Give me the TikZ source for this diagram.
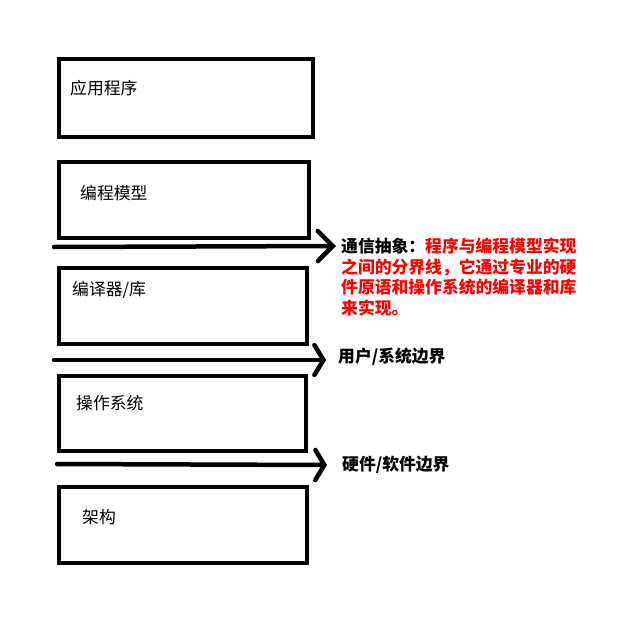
\documentclass[tikz,border=0pt]{standalone}
\usepackage{fontspec}
\newfontfamily\cjk{Noto Sans CJK SC}
\usetikzlibrary{arrows.meta}
\begin{document}
\begin{tikzpicture}[x=1pt,y=-1pt,
  layer/.style={draw=black,line width=4.5pt,fill=none,anchor=north west,inner sep=0pt,outer sep=0pt},
  lbl/.style={anchor=west,inner sep=0pt,font=\cjk\fontsize{16.8}{20.5}\selectfont},
  blbl/.style={anchor=west,inner sep=0pt,font=\cjk\bfseries\fontsize{16.8}{20.5}\selectfont},
  bound/.style={line width=4.5pt,line cap=round}]
\useasboundingbox (0,0) rectangle (620,629);
% layers
\node[layer,minimum width=254pt,minimum height=78pt] (b1) at (59,59) {};
\node[layer,minimum width=250pt,minimum height=76pt] (b2) at (59,162) {};
\node[layer,minimum width=248pt,minimum height=76pt] (b3) at (59,268) {};
\node[layer,minimum width=247pt,minimum height=75pt] (b4) at (59,376) {};
\node[layer,minimum width=248pt,minimum height=76pt] (b5) at (59,487) {};
% layer labels
\node[lbl] (t1) at (70,88) {应用程序};
\node[lbl] (t2) at (80,193) {编程模型};
\node[lbl] (t3) at (72,290) {编译器/库};
\node[lbl] (t4) at (76,403) {操作系统};
\node[lbl] (t5) at (82,517) {架构};
% boundaries
\coordinate (a1s) at (54,247);
\coordinate (a1e) at (336,246);
\coordinate (a2s) at (54,360);
\coordinate (a2e) at (326,360);
\coordinate (a3s) at (57,464);
\coordinate (a3e) at (327,465);
\draw[bound,-{Straight Barb[length=15pt,width=30pt,line cap=round]}] (a1s) -- (a1e);
\draw[bound,-{Straight Barb[length=9pt,width=30pt,line cap=round]}] (a2s) -- (a2e);
\draw[bound,-{Straight Barb[length=9pt,width=30pt,line cap=round]}] (a3s) -- (a3e);
% boundary labels
\node[blbl,anchor=north west,align=left] (l1) at (341,238)
 {通信抽象：\textcolor{red}{程序与编程模型实现}\\
  \textcolor{red}{之间的分界线，它通过专业的硬}\\
  \textcolor{red}{件原语和操作系统的编译器和库}\\
  \textcolor{red}{来实现。}};
\node[blbl] (l2) at (338,357) {用户/系统边界};
\node[blbl] (l3) at (342,465) {硬件/软件边界};
\end{tikzpicture}
\end{document}
